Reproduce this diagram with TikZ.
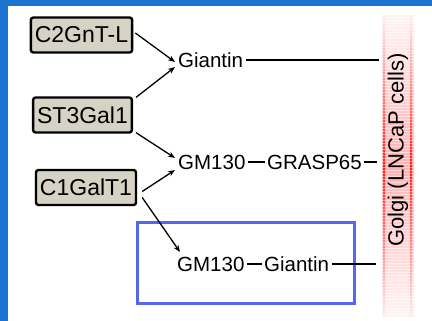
\documentclass[tikz,border=0pt]{standalone}
\usepackage{fontspec}
\setmainfont{Liberation Sans}
\usetikzlibrary{arrows.meta}
\definecolor{frameblue}{RGB}{27,117,208}
\definecolor{boxfill}{RGB}{214,211,196}
\definecolor{hlblue}{RGB}{85,102,240}
\tikzset{
  genebox/.style={draw=black, line width=2.4pt, fill=boxfill, rounded corners=2.5pt,
    minimum height=35pt, inner xsep=4pt, font=\fontsize{23}{27}\selectfont},
  lbl/.style={inner xsep=2.5pt, inner ysep=0pt, font=\fontsize{20.5}{24}\selectfont, anchor=west},
  arr/.style={line width=1.3pt, -{Stealth[length=7pt,width=5.5pt]}},
  link/.style={line width=1.4pt},
}
\begin{document}
\begin{tikzpicture}[x=1pt,y=-1pt]
\useasboundingbox (0,0) rectangle (432,321);
% frame
\fill[frameblue] (0,0) rectangle (432,321);
\fill[white] (8,6) rectangle (432,321);
% Golgi bar
\shade[top color=red!4, bottom color=red!4, middle color=red!30] (382,16) rectangle (414,316);
\shade[top color=red!8, bottom color=red!8, middle color=red!90] (383,16) rectangle (385,316);
\shade[top color=red!8, bottom color=red!8, middle color=red!90] (410,16) rectangle (412,316);
\foreach \yy in {17,20,...,315} {\draw[white, line width=0.8pt, opacity=0.45] (382,\yy) -- (414,\yy);}
\node[rotate=90, font=\fontsize{22}{26}\selectfont, inner sep=0pt] (golgi) at (398,150) {Golgi (LNCaP cells)};
\coordinate (e1) at (379,60);
\coordinate (e2) at (377,162);
\coordinate (e3) at (376,264);
% highlight rectangle
\draw[hlblue, line width=3pt] (137,223) rectangle (354,303);
% gene boxes
\node[genebox] (c2) at (81.5,35) {C2GnT-L};
\node[genebox] (st) at (82.5,115) {ST3Gal1};
\node[genebox] (c1) at (86,187.5) {C1GalT1};
% labels
\node[lbl] (gi1) at (175.5,60) {Giantin};
\node[lbl] (gm2) at (175.5,162) {GM130};
\node[lbl] (gr2) at (264.5,162) {GRASP65};
\node[lbl] (gm3) at (174.5,264) {GM130};
\node[lbl] (gi3) at (261.5,264) {Giantin};
% links
\draw[link] (gi1) -- (e1);
\draw[link] (gm2) -- (gr2);
\draw[link] (gr2) -- (e2);
\draw[link] (gm3) -- (gi3);
\draw[link] (gi3) -- (e3);
% arrows (yshift positive = upwards)
\draw[arr] ([xshift=2pt,yshift=2pt]c2.east) -- ([xshift=-0.5pt,yshift=-2pt]gi1.west);
\draw[arr] ([xshift=3pt,yshift=-1pt]st.north east) -- ([xshift=-0.5pt,yshift=-7pt]gi1.west);
\draw[arr] ([xshift=3pt,yshift=1pt]st.south east) -- ([xshift=-0.5pt,yshift=4pt]gm2.west);
\draw[arr] ([xshift=5pt,yshift=-4pt]c1.east) -- ([xshift=-0.5pt,yshift=-8pt]gm2.west);
\draw[arr] ([xshift=5pt,yshift=-10pt]c1.east) -- ([xshift=5.5pt,yshift=12pt]gm3.west);
\end{tikzpicture}
\end{document}
